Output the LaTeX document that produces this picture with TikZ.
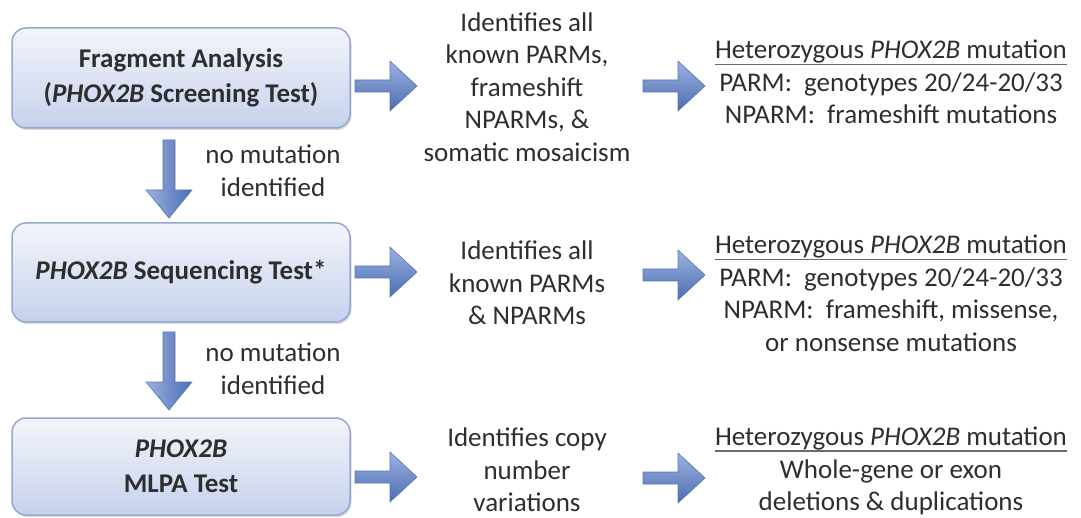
\documentclass[tikz,border=0pt]{standalone}
\usepackage{fontspec}
\setmainfont{Carlito}
\usetikzlibrary{arrows.meta,shadows,calc}
\definecolor{txt}{HTML}{2E2E2E}
\definecolor{arrlight}{HTML}{9DB2DF}
\definecolor{arrdark}{HTML}{4A6DB2}
\definecolor{arredge}{HTML}{5775B5}
\definecolor{boxline}{HTML}{95A8D4}
\definecolor{boxtop}{HTML}{F4F5FB}
\definecolor{boxbot}{HTML}{C6D1EC}
\definecolor{ulcol}{HTML}{6A6A6A}
\newcommand\hdul[1]{\setbox0\hbox{#1}\rlap{\textcolor{ulcol}{\rule[-6pt]{\wd0}{1.2pt}}}\box0}
\tikzset{
  testbox/.style={draw=boxline, line width=1.5pt, rounded corners=14pt,
    top color=boxtop, bottom color=boxbot, minimum width=338pt,
    minimum height=100pt, align=center, text=txt,
    font=\bfseries\fontsize{27}{35}\selectfont,
    drop shadow={opacity=0.3, shadow xshift=1.5pt, shadow yshift=-2pt}},
  lbl/.style={align=center, font=\fontsize{27}{32.5}\selectfont, text=txt, inner sep=0pt},
  harrowst/.style={draw=arredge, line width=0.6pt, line join=miter,
    top color=arrlight, bottom color=arrdark},
  varrowst/.style={draw=arredge, line width=0.6pt, line join=miter,
    left color=arrlight, right color=arrdark},
}
% horizontal block arrow from #1 to #2
\newcommand\harrow[2]{%
  \path[harrowst] ($(#1)+(0,-6)$) -- ($(#2)+(-27,-6)$) -- ($(#2)+(-27,-25)$)
    -- (#2) -- ($(#2)+(-27,25)$) -- ($(#2)+(-27,6)$) -- ($(#1)+(0,6)$) -- cycle;}
% vertical (downward) block arrow from #1 to #2
\newcommand\varrow[2]{%
  \path[varrowst] ($(#1)+(-6,0)$) -- ($(#2)+(-6,-28)$) -- ($(#2)+(-23,-28)$)
    -- (#2) -- ($(#2)+(23,-28)$) -- ($(#2)+(6,-28)$) -- ($(#1)+(6,0)$) -- cycle;}
\begin{document}
\begin{tikzpicture}[x=1pt,y=-1pt]
\useasboundingbox (0,0) rectangle (1081,518);
% test boxes
\node[testbox] (b1) at (181,78) {Fragment Analysis\\(\textit{PHOX2B} Screening Test)};
\node[testbox, minimum height=99pt] (b2) at (181,272.5) {\textit{PHOX2B} Sequencing Test*};
\node[testbox, minimum height=97pt] (b3) at (181,466.5) {\textit{PHOX2B}\\MLPA Test};
% down arrows
\coordinate (d1s) at (169,140);
\coordinate (d1e) at (169,218);
\coordinate (d2s) at (169,332);
\coordinate (d2e) at (169,410);
\varrow{d1s}{d1e}
\varrow{d2s}{d2e}
\node[lbl] (n1) at (273,171) {no mutation\\identified};
\node[lbl] (n2) at (273,369) {no mutation\\identified};
% middle column
\node[lbl] (m1) at (527,87) {Identifies all\\known PARMs,\\frameshift\\NPARMs, \&\\somatic mosaicism};
\node[lbl] (m2) at (527,283) {Identifies all\\known PARMs\\\& NPARMs};
\node[lbl] (m3) at (527,470) {Identifies copy\\number\\variations};
% right column
\node[lbl] (r1) at (891,82) {\hdul{Heterozygous \textit{PHOX2B} mutation}\\PARM:\ \ genotypes 20/24-20/33\\NPARM:\ \ frameshift mutations};
\node[lbl] (r2) at (891,293.5) {\hdul{Heterozygous \textit{PHOX2B} mutation}\\PARM:\ \ genotypes 20/24-20/33\\NPARM:\ \ frameshift, missense,\\or nonsense mutations};
\node[lbl] (r3) at (891,471) {\hdul{Heterozygous \textit{PHOX2B} mutation}\\Whole-gene or exon\\deletions \& duplications};
% right arrows
\coordinate (a1s) at (355,86);  \coordinate (a1e) at (417,86);
\coordinate (a2s) at (643,86);  \coordinate (a2e) at (705,86);
\coordinate (a3s) at (355,272); \coordinate (a3e) at (417,272);
\coordinate (a4s) at (643,275); \coordinate (a4e) at (705,275);
\coordinate (a5s) at (355,477); \coordinate (a5e) at (417,477);
\coordinate (a6s) at (643,478); \coordinate (a6e) at (705,478);
\harrow{a1s}{a1e}
\harrow{a2s}{a2e}
\harrow{a3s}{a3e}
\harrow{a4s}{a4e}
\harrow{a5s}{a5e}
\harrow{a6s}{a6e}
\end{tikzpicture}
\end{document}
